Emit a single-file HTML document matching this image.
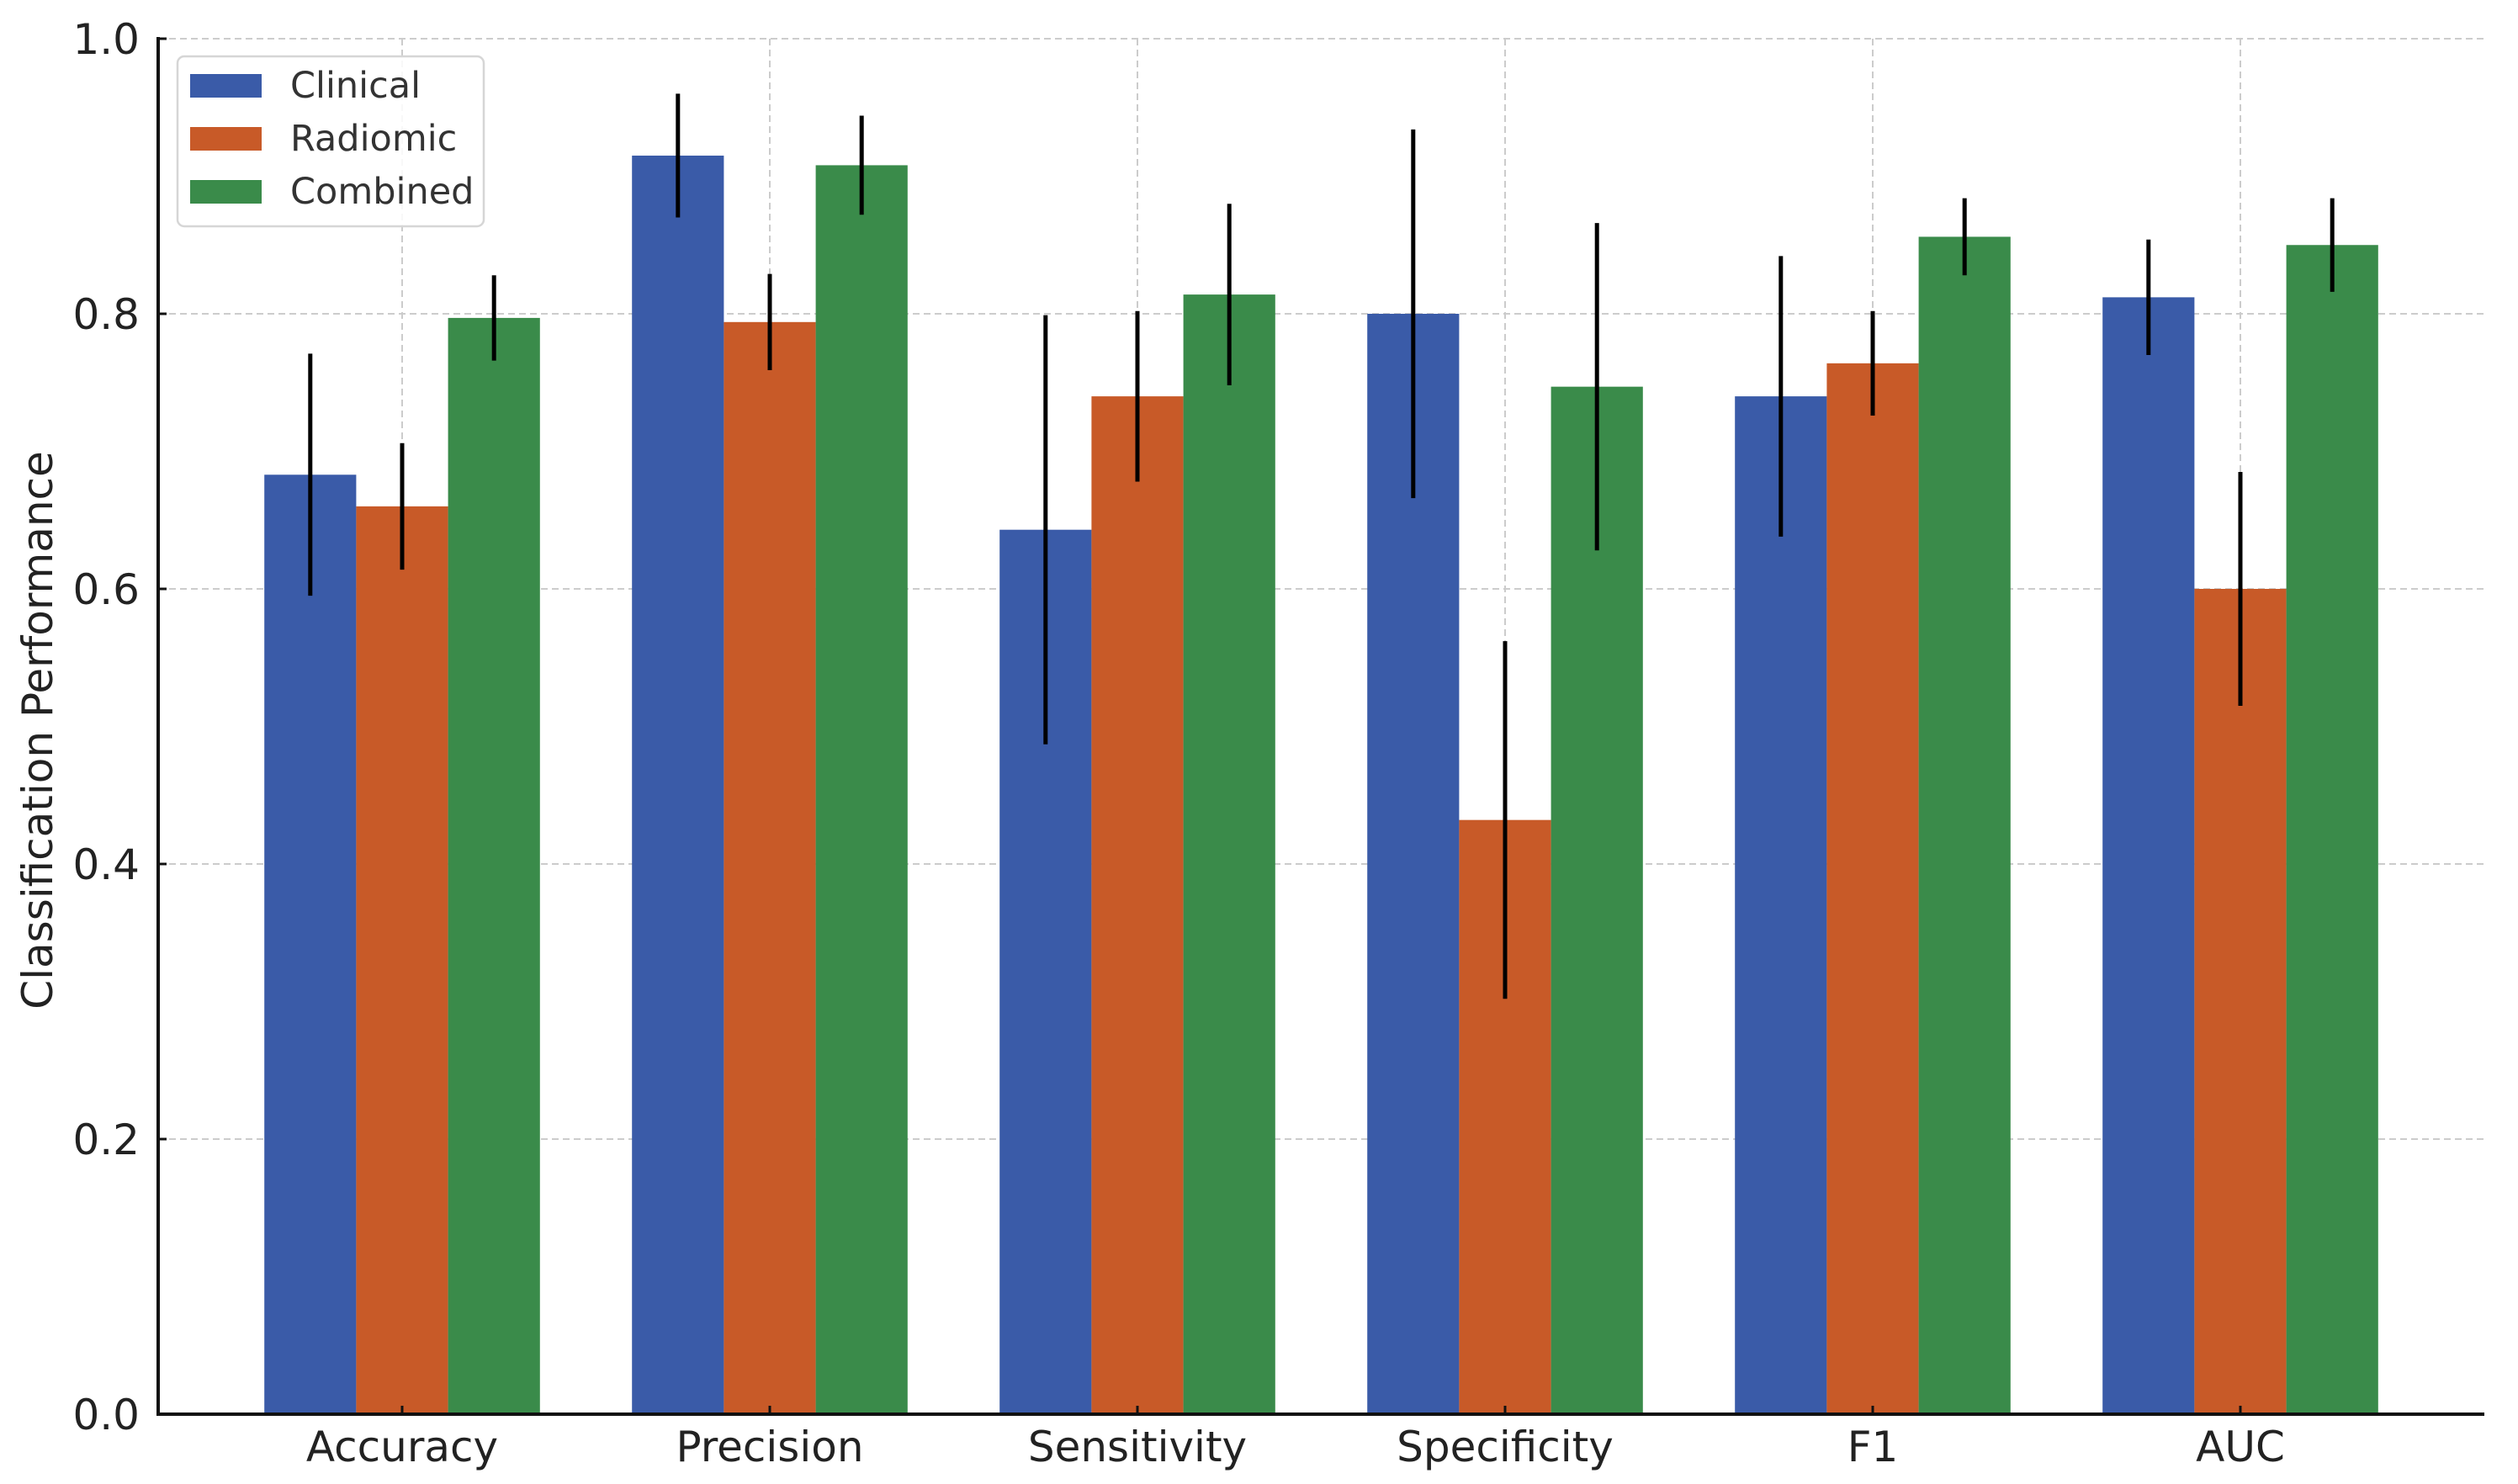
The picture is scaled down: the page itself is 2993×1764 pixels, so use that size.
<!DOCTYPE html>
<html><head><meta charset="utf-8"><style>
html,body{margin:0;padding:0;background:#fff;}
svg{display:block;font-family:"DejaVu Sans","Liberation Sans",sans-serif;}
</style></head><body>
<svg id="chart" width="2993" height="1764" viewBox="0 0 2993 1764" xmlns="http://www.w3.org/2000/svg">
<g id="grid"></g>
<g id="bars"></g>
<g id="errs"></g>
<g id="axes"></g>
<text x="0" y="0" transform="translate(62,868) rotate(-90)" text-anchor="middle" font-size="50" fill="#222">Classification Performance</text>
<g>
<rect x="211" y="67" width="364" height="202" rx="8" fill="#fff" fill-opacity="0.85" stroke="#d6d6d6" stroke-width="2.5"/>
<g><rect x="226" y="88" width="85" height="28" fill="#3a5ba8"/><text x="345" y="116" font-size="43" fill="#333">Clinical</text></g>
<g><rect x="226" y="151" width="85" height="28" fill="#c85a28"/><text x="345" y="179" font-size="43" fill="#333">Radiomic</text></g>
<g><rect x="226" y="214" width="85" height="28" fill="#3a8b4a"/><text x="345" y="242" font-size="43" fill="#333">Combined</text></g>
</g>
</svg>
<script>
const categories=["Accuracy","Precision","Sensitivity","Specificity","F1","AUC"];
const seriesNames=["Clinical","Radiomic","Combined"];
const clinical=[0.683,0.915,0.643,0.800,0.740,0.812];
const radiomic=[0.660,0.794,0.740,0.432,0.764,0.600];
const combined=[0.797,0.908,0.814,0.747,0.856,0.850];
const clinicalErr=[0.088,0.045,0.156,0.134,0.102,0.042];
const radiomicErr=[0.046,0.035,0.062,0.130,0.038,0.085];
const combinedErr=[0.031,0.036,0.066,0.119,0.028,0.034];
const yTicks=[0.0,0.2,0.4,0.6,0.8,1.0];
const yTickLabels=["0.0","0.2","0.4","0.6","0.8","1.0"];

const NS="http://www.w3.org/2000/svg";
const X0=188,X1=2953,Y0=1681,Y1=46,C0=478,STEP=437,BW=109.2;
const colors=["#3a5ba8","#c85a28","#3a8b4a"];
function y(v){return Y0-(v-0)/(1-0)*(Y0-Y1);}
function xc(i){return C0+i*STEP;}
function mk(tag,attrs,parent){const e=document.createElementNS(NS,tag);for(const k in attrs)e.setAttribute(k,attrs[k]);document.getElementById(parent).appendChild(e);return e;}
const vals=[clinical,radiomic,combined],errs=[clinicalErr,radiomicErr,combinedErr];
yTicks.forEach((t,i)=>{
  if(t>0){const g=mk("line",{x1:X0,x2:X1,y1:y(t),y2:y(t),stroke:"#cccccc","stroke-width":2,"stroke-dasharray":"8,5"},"grid");
  
  }
  const tk=mk("line",{x1:X0,x2:X0+10,y1:y(t),y2:y(t),stroke:"#111","stroke-width":3},"axes");
  
  
  const tl=mk("text",{x:X0-22,y:y(t)+18,"text-anchor":"end","font-size":50,fill:"#222"},"axes");
  tl.textContent=yTickLabels[i];
  
  
});
categories.forEach((c,i)=>{
  const g=mk("line",{x1:xc(i),x2:xc(i),y1:Y1,y2:Y0,stroke:"#cccccc","stroke-width":2,"stroke-dasharray":"8,5"},"grid");
  
  
  for(let s=0;s<3;s++){
    const cx=xc(i)+(s-1)*BW;
    const b=mk("rect",{x:cx-BW/2,y:y(vals[s][i]),width:BW,height:Y0-y(vals[s][i]),fill:colors[s]},"bars");
    
    
    const e=mk("line",{x1:cx,x2:cx,y1:y(vals[s][i]+errs[s][i]),y2:y(vals[s][i]-errs[s][i]),stroke:"#000","stroke-width":5},"errs");
    
    
  }
  const tk=mk("line",{x1:xc(i),x2:xc(i),y1:Y0,y2:Y0-10,stroke:"#111","stroke-width":3},"axes");
  
  
  const tl=mk("text",{x:xc(i),y:Y0+56,"text-anchor":"middle","font-size":50,fill:"#222"},"axes");
  tl.textContent=c;
  
  
});
const ax=mk("line",{x1:X0,x2:X0,y1:Y1-2,y2:Y0+2,stroke:"#111","stroke-width":4},"axes");


const bx=mk("line",{x1:X0-2,x2:X1,y1:Y0,y2:Y0,stroke:"#111","stroke-width":4},"axes");


</script>
</body></html>
